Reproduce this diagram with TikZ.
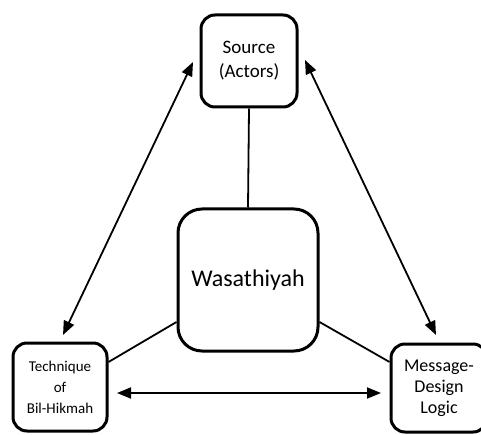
\documentclass[tikz,border=0pt]{standalone}
\usepackage{fontspec}
\setmainfont{Carlito}
\usetikzlibrary{arrows.meta,calc}
\begin{document}
\begin{tikzpicture}[x=1pt,y=1pt,
  box/.style={draw=black,line width=3pt,rounded corners=14pt,align=center,inner sep=0pt},
  link/.style={line width=1.8pt},
  dbl/.style={line width=1.8pt,{Triangle[length=14pt,width=11pt]}-{Triangle[length=14pt,width=11pt]}}]
\useasboundingbox (0,0) rectangle (481,434);
\node[box,minimum width=96pt,minimum height=92pt,font=\fontsize{19}{24}\selectfont] (s) at (249,373) {Source\\(Actors)};
\node[box,rounded corners=24pt,minimum width=140pt,minimum height=142pt,font=\fontsize{24}{28}\selectfont] (w) at (248,154) {Wasathiyah};
\node[box,minimum width=94pt,minimum height=88pt,font=\fontsize{15}{21}\selectfont] (t) at (60,47) {Technique\\of\\Bil-Hikmah};
\node[box,minimum width=96pt,minimum height=88pt,font=\fontsize{18}{21}\selectfont] (m) at (439,46) {Message-\\Design\\Logic};
\draw[link] (s.south) -- (w.north);
\draw[link] ($(w.west)+(0,-42)$) -- ($(t.east)+(0,25)$);
\draw[link] ($(w.east)+(0,-42)$) -- ($(m.west)+(0,26)$);
\coordinate (a1) at (193,372);
\coordinate (a2) at (63,99);
\coordinate (b1) at (305,374);
\coordinate (b2) at (436,99);
\coordinate (c1) at (117,41);
\coordinate (c2) at (381,41);
\draw[dbl] (a1) -- (a2);
\draw[dbl] (b1) -- (b2);
\draw[dbl] (c1) -- (c2);
\end{tikzpicture}
\end{document}
